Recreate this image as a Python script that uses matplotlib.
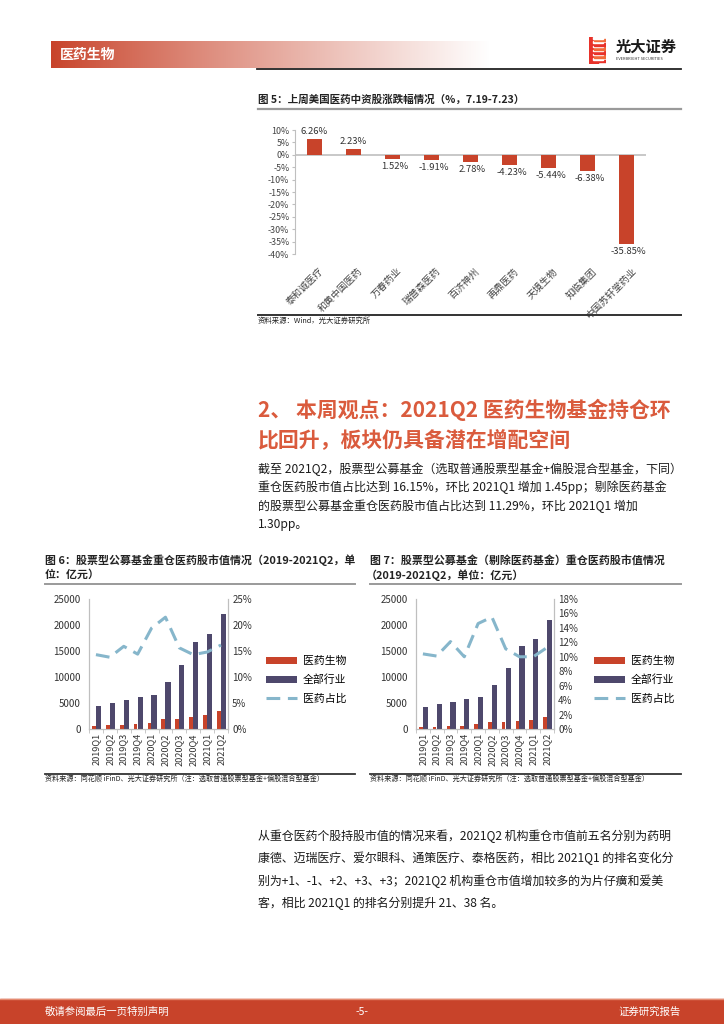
import matplotlib
matplotlib.use("Agg")
import matplotlib.pyplot as plt
import numpy as np
from matplotlib.patches import Rectangle, Patch
from matplotlib.lines import Line2D

plt.rcParams['font.family'] = ['Noto Sans CJK SC', 'DejaVu Sans']
plt.rcParams['axes.unicode_minus'] = False

# ---------------- data ----------------
fig5_names = ['泰和诚医疗', '和黄中国医药', '万春药业', '瑞普森医药', '百济神州',
              '再鼎医药', '天境生物', '知临集团', '中国苏轩堂药业']
fig5_values = [6.26, 2.23, -1.52, -1.91, -2.78, -4.23, -5.44, -6.38, -35.85]
fig5_labels = ['6.26%', '2.23%', '1.52%', '-1.91%', '2.78%', '-4.23%', '-5.44%', '-6.38%', '-35.85%']
fig5_yticks = [10, 5, 0, -5, -10, -15, -20, -25, -30, -35, -40]

quarters = ['2019Q1', '2019Q2', '2019Q3', '2019Q4', '2020Q1', '2020Q2',
            '2020Q3', '2020Q4', '2021Q1', '2021Q2']
fig6_pharma = [650, 700, 850, 900, 1250, 1900, 1900, 2400, 2700, 3550]
fig6_all = [4500, 5000, 5500, 6200, 6500, 9100, 12300, 16800, 18200, 22100]
fig6_ratio = [14.3, 13.8, 15.9, 14.4, 19.4, 21.5, 15.6, 14.3, 14.8, 16.15]

fig7_pharma = [450, 480, 600, 620, 880, 1300, 1300, 1600, 1700, 2350]
fig7_all = [4300, 4800, 5100, 5800, 6100, 8500, 11700, 16000, 17300, 20900]
fig7_ratio = [10.4, 10.1, 12.1, 10.0, 14.6, 15.5, 11.1, 10.0, 10.0, 11.29]

legend_names = ['医药生物', '全部行业', '医药占比']

heading_lines = ['2、 本周观点：2021Q2 医药生物基金持仓环',
                 '比回升，板块仍具备潜在增配空间']
para1_lines = ['截至 2021Q2，股票型公募基金（选取普通股票型基金+偏股混合型基金，下同）',
               '重仓医药股市值占比达到 16.15%，环比 2021Q1 增加 1.45pp；剔除医药基金',
               '的股票型公募基金重仓医药股市值占比达到 11.29%，环比 2021Q1 增加',
               '1.30pp。']
para2_lines = ['从重仓医药个股持股市值的情况来看，2021Q2 机构重仓市值前五名分别为药明',
               '康德、迈瑞医疗、爱尔眼科、通策医疗、泰格医药，相比 2021Q1 的排名变化分',
               '别为+1、-1、+2、+3、+3；2021Q2 机构重仓市值增加较多的为片仔癀和爱美',
               '客，相比 2021Q1 的排名分别提升 21、38 名。']

# ---------------- styles ----------------
RED = '#C8432A'
PURPLE = '#4E486C'
BLUE = '#86B6CB'
GRAY = '#BFBFBF'

W, H = 724, 1024
fig = plt.figure(figsize=(W / 100, H / 100), dpi=100)
fig.patch.set_facecolor('white')


def fx(x):
    return x / W


def fy(y):
    return 1 - y / H


def add_ax(l, t, r, b, **kw):
    return fig.add_axes([l / W, 1 - b / H, (r - l) / W, (b - t) / H], **kw)


def ftext(x, y, s, **kw):
    kw.setdefault('va', 'center')
    kw.setdefault('ha', 'left')
    return fig.text(fx(x), fy(y), s, **kw)


def hline(x0, x1, y, color, lw):
    fig.add_artist(Line2D([fx(x0), fx(x1)], [fy(y), fy(y)], color=color, lw=lw,
                          transform=fig.transFigure))


# ---------------- header ----------------
hax = add_ax(51, 41, 490, 68)
grad = np.linspace(0, 1, 256)
base = np.array([200, 67, 42]) / 255.0
cols = np.zeros((1, 256, 3))
for i in range(3):
    cols[0, :, i] = base[i] + (1 - base[i]) * grad ** 0.9
hax.imshow(cols, aspect='auto', extent=[0, 1, 0, 1])
hax.set_axis_off()
ftext(60, 54.5, '医药生物', color='white', fontsize=10, fontweight='bold')
hline(257, 681, 69, '#222222', 1.3)

# logo
lax = add_ax(589, 37, 606, 64)
lax.set_xlim(0, 1)
lax.set_ylim(0, 1)
lax.set_axis_off()
lax.add_patch(Rectangle((0, 0), 0.5, 1, color='#E8322A'))
for k in range(6):
    yy = 0.06 + k * 0.155
    lax.add_patch(Rectangle((0.3, yy), 0.7, 0.1, color='#F26B3A' if k % 2 else '#E8322A'))
    lax.add_patch(Rectangle((0.25, yy + 0.1), 0.55, 0.055, color='white'))
ftext(616, 47, '光大证券', color='#1A1A1A', fontsize=11, fontweight='bold')
ftext(616, 59.5, 'EVERBRIGHT SECURITIES', color='#333333', fontsize=2.9)

# ---------------- figure 5 ----------------
ftext(258, 100, '图 5：上周美国医药中资股涨跌幅情况（%，7.19-7.23）', fontsize=7.6,
      fontweight='bold', color='#222222')
hline(258, 681, 108.5, '#9A9A9A', 1.6)

ax5 = add_ax(295, 130, 646, 254)
x5 = np.arange(len(fig5_values))
ax5.bar(x5, fig5_values, width=0.4, color=RED, zorder=3)
ax5.set_xlim(-0.5, len(fig5_values) - 0.5)
ax5.set_ylim(-40, 10)
ax5.set_yticks(fig5_yticks)
ax5.set_yticklabels([f'{v}%' for v in fig5_yticks], fontsize=6.4, color='#444444')
ax5.axhline(0, color=GRAY, lw=1.2, zorder=2)
for s in ['top', 'right', 'bottom']:
    ax5.spines[s].set_visible(False)
ax5.spines['left'].set_color(GRAY)
ax5.tick_params(axis='y', length=2, color=GRAY, pad=2)
ax5.set_xticks(x5 + 0.12)
ax5.set_xticklabels(fig5_names, rotation=45, ha='right', rotation_mode='anchor',
                    fontsize=6.9, color='#444444')
ax5.tick_params(axis='x', length=0, pad=9)
for xi, v, lab in zip(x5, fig5_values, fig5_labels):
    if v >= 0:
        ax5.text(xi, v + 1.2, lab, ha='center', va='bottom', fontsize=6.8, color='#333333')
    else:
        ax5.text(xi + 0.05, v - 1.2, lab, ha='center', va='top', fontsize=6.8, color='#333333')

hline(258, 681, 315, '#333333', 1.4)
ftext(258, 321, '资料来源：Wind，光大证券研究所', fontsize=5.3, color='#222222')

# ---------------- heading & paragraph ----------------
HCOL = '#DA5B3D'
ftext(258, 410, heading_lines[0], fontsize=15, fontweight='bold', color=HCOL)
ftext(258, 440, heading_lines[1], fontsize=15, fontweight='bold', color=HCOL)
for i, line in enumerate(para1_lines):
    ftext(258, 469 + i * 18.5, line, fontsize=8.65, color='#1A1A1A')


# ---------------- figures 6 & 7 ----------------
def bar_line_chart(l, t, r, b, pharma, allv, ratio, rmax, rstep, leg_x):
    ax = add_ax(l, t, r, b)
    xx = np.arange(len(quarters))
    ax.bar(xx - 0.15, pharma, width=0.27, color=RED, zorder=3)
    ax.bar(xx + 0.18, allv, width=0.38, color=PURPLE, zorder=3)
    ax.set_xlim(-0.5, len(quarters) - 0.5)
    ax.set_ylim(0, 25000)
    ax.set_yticks(range(0, 25001, 5000))
    ax.set_yticklabels([str(v) for v in range(0, 25001, 5000)], fontsize=7, color='#333333')
    ax.set_xticks(xx)
    ax.set_xticklabels(quarters, rotation=90, fontsize=6.6, color='#333333')
    ax.set_xticks(np.arange(-0.5, len(quarters), 1), minor=True)
    ax.tick_params(axis='x', which='major', length=0, pad=3)
    ax.tick_params(axis='x', which='minor', length=3, color=GRAY)
    ax.tick_params(axis='y', length=0, pad=6)
    ax.spines['top'].set_visible(False)
    for s in ['left', 'right', 'bottom']:
        ax.spines[s].set_color(GRAY)
    ax2 = ax.twinx()
    ax2.plot(xx, ratio, color=BLUE, lw=2.2, dashes=(4.5, 2.5), zorder=4)
    ax2.set_ylim(0, rmax)
    ticks = np.arange(0, rmax + 0.01, rstep)
    ax2.set_yticks(ticks)
    ax2.set_yticklabels([f'{int(v)}%' for v in ticks], fontsize=7, color='#333333')
    ax2.tick_params(axis='y', length=0, pad=3)
    ax2.spines['top'].set_visible(False)
    for s in ['left', 'right', 'bottom']:
        ax2.spines[s].set_color(GRAY)
    handles = [Patch(facecolor=RED, edgecolor='none'),
               Patch(facecolor=PURPLE, edgecolor='none'),
               Line2D([0], [0], color=BLUE, lw=2.2, dashes=(4.5, 2.5))]
    fig.legend(handles, legend_names, loc='center left',
               bbox_to_anchor=(fx(leg_x), fy(680)), frameon=False,
               fontsize=7.8, handlelength=2.8, handleheight=0.55,
               labelspacing=0.75, handletextpad=0.6, borderaxespad=0)
    return ax


ftext(45, 560, '图 6：股票型公募基金重仓医药股市值情况（2019-2021Q2，单', fontsize=7.9,
      fontweight='bold', color='#222222')
ftext(45, 575, '位：亿元）', fontsize=7.9, fontweight='bold', color='#222222')
hline(45, 355, 584, '#9A9A9A', 1.4)
bar_line_chart(89, 599, 228, 729, fig6_pharma, fig6_all, fig6_ratio, 25, 5, 262)
hline(45, 355, 774, '#333333', 1.3)
ftext(45, 779, '资料来源：同花顺 iFinD、光大证券研究所（注：选取普通股票型基金+偏股混合型基金）',
      fontsize=5.1, color='#222222')

ftext(370, 560, '图 7：股票型公募基金（剔除医药基金）重仓医药股市值情况', fontsize=7.9,
      fontweight='bold', color='#222222')
ftext(366, 575, '（2019-2021Q2，单位：亿元）', fontsize=7.9, fontweight='bold', color='#222222')
hline(370, 681, 584, '#9A9A9A', 1.4)
bar_line_chart(416, 599, 554, 729, fig7_pharma, fig7_all, fig7_ratio, 18, 2, 590)
hline(370, 681, 774, '#333333', 1.3)
ftext(370, 779, '资料来源：同花顺 iFinD、光大证券研究所（注：选取普通股票型基金+偏股混合型基金）',
      fontsize=5.1, color='#222222')

# ---------------- paragraph 2 ----------------
for i, line in enumerate(para2_lines):
    ftext(258, 836 + i * 22.5, line, fontsize=8.6, color='#1A1A1A')

# ---------------- footer ----------------
fig.add_artist(Rectangle((0, 0), 1, fy(999), transform=fig.transFigure,
                         color=RED, zorder=0))
hline(0, 724, 998.5, '#E58A70', 1.0)
ftext(45, 1012, '敬请参阅最后一页特别声明', fontsize=7.5, color='white')
ftext(362, 1012, '-5-', fontsize=7.5, color='white', ha='center')
ftext(681, 1012, '证券研究报告', fontsize=7.5, color='white', ha='right')

fig.savefig('out.png', dpi=100, facecolor='white')
